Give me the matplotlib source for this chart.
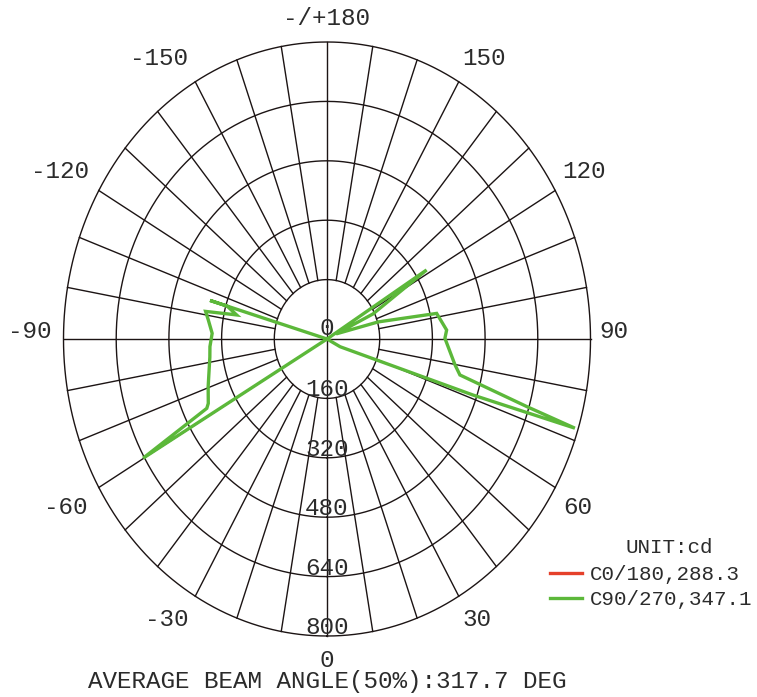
import numpy as np
import matplotlib.pyplot as plt
from matplotlib.lines import Line2D

# C90/270 trace, drawn in path order (angle in deg, 0 = down, +90 = right)
c90_angle = [0, 121.6, 115.8, 116.3, 106.5, 101.7, 93.8, 90.3, 79.8, 76.5,
             73.3, 72.3, 71.2, 62.4, 0, -60.1, -62.9, -64.3, -70.4, -82.2,
             -86.7, -92.5, -98.1, -101.4, -103.3, -106.3, -106.3, 0]
c90_cd = [0, 355, 155, 31, 162, 340, 364, 358, 395, 415,
          633, 790, 469, 45, 0, 644, 410, 400, 383, 359,
          356, 349, 364, 376, 282, 316, 370, 0]

ring_values = [160, 320, 480, 640, 800]
ring_labels = ['160', '320', '480', '640', '800']
angle_ticks = [0, 30, 60, 90, 120, 150, 180, -150, -120, -90, -60, -30]
angle_labels = ['0', '30', '60', '90', '120', '150', '-/+180',
                '-150', '-120', '-90', '-60', '-30']
legend_names = ['C0/180,288.3', 'C90/270,347.1']
unit_text = 'UNIT:cd'
beam_text = 'AVERAGE BEAM ANGLE(50%):317.7 DEG'

RMAX = 800
GRID = '#1c1414'
TXT = '#2b2b2b'
GREEN = '#5cb83a'
RED = '#e5402a'
FONT = 'Liberation Mono'


def to_xy(angle_deg, r):
    t = np.radians(np.asarray(angle_deg, dtype=float))
    r = np.asarray(r, dtype=float)
    return r * np.sin(t), -r * np.cos(t)


fig = plt.figure(figsize=(7.57, 6.97), dpi=100)
ax = fig.add_axes([63.5 / 757, 61 / 697, 527 / 757, 594 / 697])
ax.set_xlim(-RMAX, RMAX)
ax.set_ylim(-RMAX, RMAX)
ax.axis('off')

# rings
t = np.linspace(0, 360, 721)
for r in ring_values:
    x, y = to_xy(t, np.full_like(t, r))
    ax.plot(x, y, color=GRID, lw=1.0, clip_on=False)

# spokes every 10 deg, main axes go through the centre
for a in range(0, 360, 10):
    r0 = 0 if a % 90 == 0 else ring_values[0]
    x, y = to_xy([a, a], [r0, RMAX])
    ax.plot(x, y, color=GRID, lw=1.0, clip_on=False)

# ring labels on the lower vertical axis
ax.annotate('0', (0, 0), xytext=(0, 4), textcoords='offset pixels',
            ha='center', va='baseline', fontsize=17.5, family=FONT, color=TXT)
for r, lab in zip(ring_values, ring_labels):
    ax.annotate(lab, (0, -r), xytext=(0, 2), textcoords='offset pixels',
                ha='center', va='baseline', fontsize=17.5, family=FONT, color=TXT)

# angle labels around the outside
offsets = {0: (0, -31), 30: (4, -30), 60: (8, -26), 90: (9, 1),
           120: (7, 13), 150: (4, 17), 180: (-1, 17)}
for a, lab in zip(angle_ticks, angle_labels):
    dx, dy = offsets[abs(a)]
    if a < 0:
        dx, ha = -dx - 3, 'right'
    elif a in (0, 180):
        ha = 'center'
    else:
        ha = 'left'
    ax.annotate(lab, to_xy(a, RMAX), xytext=(dx, dy), textcoords='offset pixels',
                ha=ha, va='baseline', fontsize=17.5, family=FONT, color=TXT,
                annotation_clip=False)

# curves
x, y = to_xy(c90_angle, c90_cd)
green, = ax.plot(x, y, color=GREEN, lw=2.4, solid_joinstyle='miter', clip_on=False)
red = Line2D([], [], color=RED, lw=2.4)

fig.legend([red, green], legend_names, loc='upper left',
           bbox_to_anchor=(550 / 757, 1 - 565 / 697), frameon=False,
           borderpad=0, borderaxespad=0, handlelength=1.55, handletextpad=0.35,
           labelspacing=0.3, prop={'family': FONT, 'size': 15},
           labelcolor=TXT)
fig.text(669 / 757, 1 - 553 / 697, unit_text, ha='center', va='baseline',
         fontsize=15, family=FONT, color=TXT)
fig.text(327 / 757, 1 - 688 / 697, beam_text, ha='center', va='baseline',
         fontsize=17.5, family=FONT, color=TXT)

fig.savefig('out.png', dpi=100, facecolor='white')
